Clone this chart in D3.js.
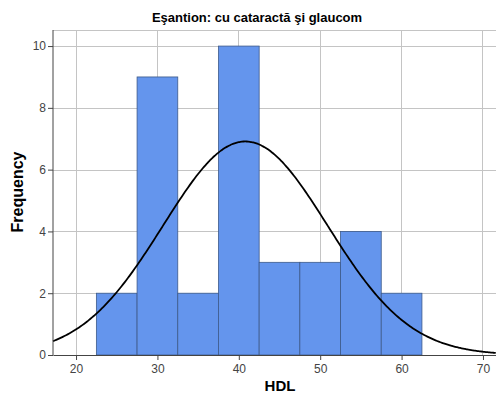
<!DOCTYPE html>
<html><head><meta charset="utf-8">
<script src="https://cdn.jsdelivr.net/npm/d3@7"></script>
<style>body{margin:0;background:#fff}svg{display:block}</style>
</head><body>
<script>
const binStarts = [22.5, 27.5, 32.5, 37.5, 42.5, 47.5, 52.5, 57.5];
const binWidth = 5;
const counts = [2, 9, 2, 10, 3, 3, 4, 2];
const xTicks = [20, 30, 40, 50, 60, 70];
const yTicks = [0, 2, 4, 6, 8, 10];
const fitMean = 40.8;
const fitSD = 10.1;
const fitN = 35;

const W = 496, H = 396;
const m = {l: 53, r: 0, t: 30, b: 41};
const svg = d3.select("body").append("svg").attr("width", W).attr("height", H);
const x = d3.scaleLinear().domain([17.17, 71.6]).range([m.l, W - m.r]);
const y = d3.scaleLinear().domain([0, 10.52]).range([H - m.b, m.t]);

// grid
const grid = svg.append("g");
grid.selectAll(".vg").data(xTicks).join("line")
  .attr("x1", d => x(d)).attr("x2", d => x(d)).attr("y1", m.t).attr("y2", H - m.b)
  .attr("stroke", "#c4c4c4").attr("stroke-width", 1).attr("shape-rendering", "crispEdges");
grid.selectAll(".hg").data(yTicks.concat([10.52])).join("line")
  .attr("x1", m.l).attr("x2", W).attr("y1", d => Math.round(y(d)) + 0.5).attr("y2", d => Math.round(y(d)) + 0.5)
  .attr("stroke", "#c4c4c4").attr("stroke-width", 1);

// bars
svg.append("g").selectAll("rect").data(counts).join("rect")
  .attr("x", (d, i) => x(binStarts[i]))
  .attr("width", (d, i) => x(binStarts[i] + binWidth) - x(binStarts[i]))
  .attr("y", d => y(d))
  .attr("height", d => y(0) - y(d))
  .attr("fill", "#6495ed").attr("stroke", "#3d5a8a").attr("stroke-width", 0.8);

// normal curve
const pts = d3.range(17.17, 71.6, 0.2).map(v => [v, fitN * binWidth / (fitSD * Math.sqrt(2 * Math.PI)) * Math.exp(-0.5 * ((v - fitMean) / fitSD) ** 2)]);
svg.append("path").datum(pts)
  .attr("d", d3.line().x(d => x(d[0])).y(d => y(d[1])).curve(d3.curveBasis))
  .attr("fill", "none").attr("stroke", "#000").attr("stroke-width", 1.8);

// axes
const fontFam = "'Liberation Sans', Arial, sans-serif";
const xa = svg.append("g").attr("transform", `translate(0,${y(0)})`)
  .call(d3.axisBottom(x).tickValues(xTicks).tickSize(5).tickPadding(4).tickSizeOuter(0));
const ya = svg.append("g").attr("transform", `translate(${m.l},0)`)
  .call(d3.axisLeft(y).tickValues(yTicks).tickSize(5).tickPadding(2).tickSizeOuter(0));
[xa, ya].forEach(a => {
  a.select(".domain").attr("stroke", "#444");
  a.selectAll(".tick line").attr("stroke", "#444");
  a.selectAll("text").attr("fill", "#444").style("font-family", fontFam).style("font-size", "12px");
});
ya.select(".domain").attr("d", `M0,${m.t}V${y(0)}`);

svg.append("text").attr("x", 257).attr("y", 22).attr("text-anchor", "middle")
  .style("font-family", fontFam).style("font-weight", "bold").style("font-size", "13px")
  .text("Eşantion: cu cataractă şi glaucom");
svg.append("text").attr("x", 280).attr("y", 391).attr("text-anchor", "middle")
  .style("font-family", fontFam).style("font-weight", "bold").style("font-size", "15px")
  .text("HDL");
svg.append("text").attr("transform", "translate(23,192) rotate(-90)").attr("text-anchor", "middle")
  .style("font-family", fontFam).style("font-weight", "bold").style("font-size", "16px")
  .text("Frequency");
</script>
</body></html>
